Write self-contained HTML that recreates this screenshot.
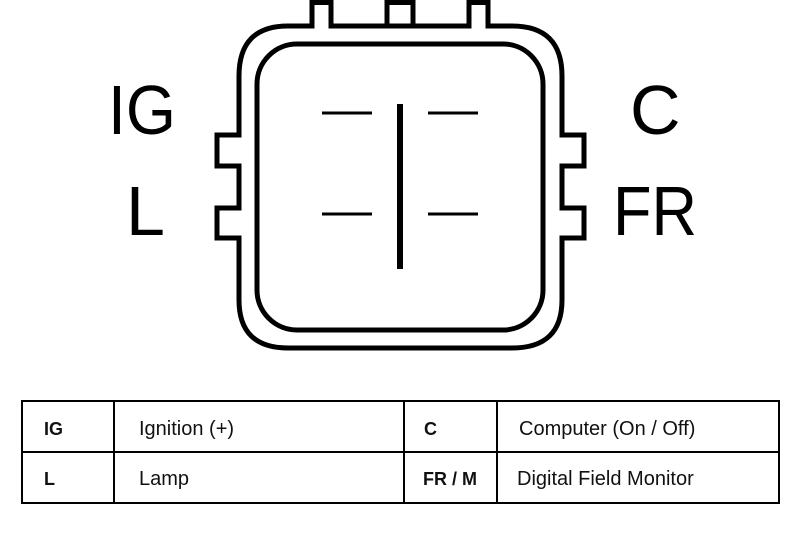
<!DOCTYPE html>
<html><head><style>
body{margin:0;background:#fff;width:800px;height:537px;overflow:hidden}
svg{display:block}
</style></head><body>
<svg width="800" height="537" viewBox="0 0 800 537" xmlns="http://www.w3.org/2000/svg">
<g fill="none" stroke="#000" stroke-width="5">
<path d="M288,26 H312 V2.5 H331 V26 H469 V2.5 H488 V26 H512 Q562,26 562,76 V135 H584 V166 H562 V208 H584 V238 H562 V300 Q562,348 512,348 H288 Q239,348 239,300 V238 H217 V208 H239 V166 H217 V135 H239 V76 Q239,26 288,26 Z"/>
<rect x="387" y="2.5" width="26" height="23.5"/>
<rect x="257" y="44" width="286" height="286" rx="40"/>
</g>
<line x1="400" y1="104" x2="400" y2="269" stroke="#000" stroke-width="6"/>
<g stroke="#000" stroke-width="3">
<line x1="322" y1="113" x2="372" y2="113"/><line x1="428" y1="113" x2="478" y2="113"/>
<line x1="322" y1="214" x2="372" y2="214"/><line x1="428" y1="214" x2="478" y2="214"/>
</g>
<g font-family="Liberation Sans, sans-serif" font-size="70" fill="#000">
<text x="108" y="134" textLength="68" lengthAdjust="spacingAndGlyphs">IG</text>
<text x="126" y="235">L</text>
<text x="630" y="134">C</text>
<text x="613" y="235" textLength="84" lengthAdjust="spacingAndGlyphs">FR</text>
</g>
<g fill="none" stroke="#000" stroke-width="2">
<rect x="22" y="401" width="757" height="102"/>
<line x1="22" y1="452" x2="779" y2="452"/>
<line x1="114" y1="401" x2="114" y2="503"/>
<line x1="404" y1="401" x2="404" y2="503"/>
<line x1="497" y1="401" x2="497" y2="503"/>
</g>
<g font-family="Liberation Sans, sans-serif" font-size="20" fill="#111">
<text x="44" y="435" font-weight="bold" font-size="18">IG</text>
<text x="139" y="435">Ignition (+)</text>
<text x="424" y="435" font-weight="bold" font-size="18">C</text>
<text x="519" y="435">Computer (On / Off)</text>
<text x="44" y="485" font-weight="bold" font-size="18">L</text>
<text x="139" y="485">Lamp</text>
<text x="423" y="485" font-weight="bold" font-size="18">FR / M</text>
<text x="517" y="485">Digital Field Monitor</text>
</g>
</svg>
</body></html>
